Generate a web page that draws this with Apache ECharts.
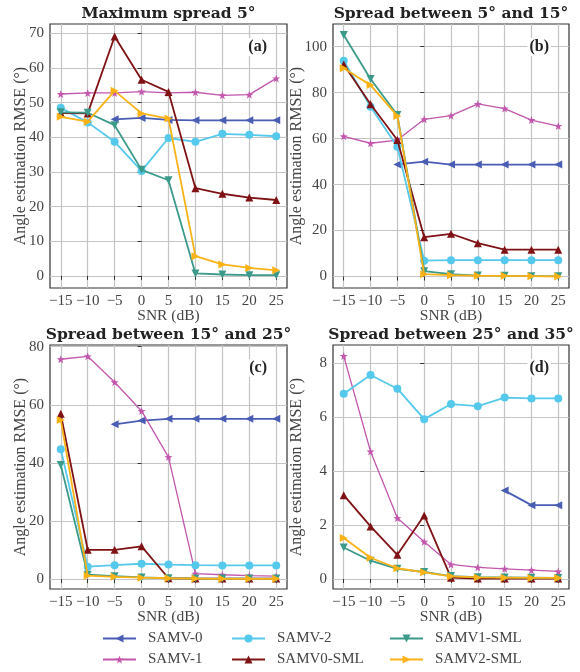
<!DOCTYPE html>
<html>
<head>
    <meta charset="UTF-8">
    <title>RMSE vs SNR</title>
    <script src="https://cdn.jsdelivr.net/npm/echarts@6/dist/echarts.min.js"></script>
    <style>
        *{margin:0;padding:0}
        html, body{ width:100%; height:100%; background:#fff; }
        #main{ width:580px; height:672px; }
    </style>
</head>
<body>
    <div id="main"></div>
    <script type="text/javascript">
        // SNR points (dB)
        var snr = [-15, -10, -5, 0, 5, 10, 15, 20, 25];
        var names = ['SAMV-0', 'SAMV-1', 'SAMV-2', 'SAMV0-SML', 'SAMV1-SML', 'SAMV2-SML'];

        // (a) maximum spread 5
        var a_samv0    = [null, null, 45.2, 45.6, 45.0, 44.9, 44.9, 44.9, 44.9];
        var a_samv1    = [52.5, 52.8, 52.8, 53.2, 52.8, 53.0, 52.1, 52.3, 57.0];
        var a_samv2    = [48.5, 44.3, 38.7, 30.3, 39.8, 38.7, 41.0, 40.7, 40.3];
        var a_samv0sml = [47.0, 46.9, 69.1, 56.6, 53.1, 25.3, 23.7, 22.6, 21.9];
        var a_samv1sml = [47.2, 47.1, 43.5, 30.6, 27.6, 0.7, 0.4, 0.2, 0.2];
        var a_samv2sml = [45.9, 44.5, 53.4, 46.9, 45.4, 5.7, 3.3, 2.3, 1.6];

        // (b) spread 5..15
        var b_samv0    = [null, null, 48.8, 50.0, 48.7, 48.7, 48.7, 48.7, 48.7];
        var b_samv1    = [61.0, 58.0, 59.4, 68.4, 70.0, 75.1, 73.1, 68.1, 65.5];
        var b_samv2    = [93.9, 73.9, 56.5, 6.9, 7.1, 7.1, 7.1, 7.1, 7.1];
        var b_samv0sml = [92.3, 75.0, 59.4, 17.1, 18.6, 14.5, 11.7, 11.7, 11.7];
        var b_samv1sml = [105.1, 86.0, 70.3, 2.3, 1.0, 0.4, 0.3, 0.15, 0.15];
        var b_samv2sml = [90.6, 83.3, 69.9, 1.0, 0.6, 0.3, 0.3, 0.15, 0.0];

        // (c) spread 15..25
        var c_samv0    = [null, null, 53.3, 54.6, 55.2, 55.2, 55.2, 55.2, 55.2];
        var c_samv1    = [75.7, 76.7, 67.8, 57.9, 42.0, 1.9, 1.5, 1.2, 1.0];
        var c_samv2    = [44.7, 4.3, 4.8, 5.3, 5.0, 4.8, 4.7, 4.7, 4.7];
        var c_samv0sml = [56.9, 10.1, 10.1, 11.3, 0.3, 0.2, 0.2, 0.2, 0.2];
        var c_samv1sml = [39.3, 1.5, 1.0, 0.6, 0.3, 0.2, 0.2, 0.2, 0.2];
        var c_samv2sml = [54.8, 1.2, 0.8, 0.5, 0.3, 0.2, 0.1, 0.1, 0.1];

        // (d) spread 25..35
        var d_samv0    = [null, null, null, null, null, null, 3.28, 2.74, 2.74];
        var d_samv1    = [8.27, 4.73, 2.26, 1.38, 0.54, 0.43, 0.38, 0.33, 0.28];
        var d_samv2    = [6.87, 7.57, 7.06, 5.93, 6.49, 6.41, 6.73, 6.70, 6.70];
        var d_samv0sml = [3.11, 1.95, 0.90, 2.36, 0.05, 0.02, 0.02, 0.02, 0.02];
        var d_samv1sml = [1.17, 0.68, 0.38, 0.26, 0.11, 0.07, 0.06, 0.05, 0.04];
        var d_samv2sml = [1.52, 0.79, 0.40, 0.25, 0.10, 0.06, 0.05, 0.04, 0.04];

        var xTicks = [-15, -10, -5, 0, 5, 10, 15, 20, 25];
        var yTicksA = [0, 10, 20, 30, 40, 50, 60, 70];
        var yTicksB = [0, 20, 40, 60, 80, 100];
        var yTicksC = [0, 20, 40, 60, 80];
        var yTicksD = [0, 2, 4, 6, 8];

        var panels = [
            {title: 'Maximum spread 5°', tag: '(a)', ticks: yTicksA, min: -3.5, max: 72.7,
             grid: {left: 50, top: 24, width: 237, height: 264}, nameGap: 21,
             data: [a_samv0, a_samv1, a_samv2, a_samv0sml, a_samv1sml, a_samv2sml]},
            {title: 'Spread between 5° and 15°', tag: '(b)', ticks: yTicksB, min: -5.0, max: 109.9,
             grid: {left: 333, top: 24, width: 236, height: 264}, nameGap: 28,
             data: [b_samv0, b_samv1, b_samv2, b_samv0sml, b_samv1sml, b_samv2sml]},
            {title: 'Spread between 15° and 25°', tag: '(c)', ticks: yTicksC, min: -3.4, max: 80.6,
             grid: {left: 50, top: 345, width: 237, height: 244}, nameGap: 21,
             data: [c_samv0, c_samv1, c_samv2, c_samv0sml, c_samv1sml, c_samv2sml]},
            {title: 'Spread between 25° and 35°', tag: '(d)', ticks: yTicksD, min: -0.37, max: 8.68,
             grid: {left: 333, top: 345, width: 236, height: 244}, nameGap: 28,
             data: [d_samv0, d_samv1, d_samv2, d_samv0sml, d_samv1sml, d_samv2sml]}
        ];

        var colors = ['#4a5db5', '#c356ad', '#55c9ec', '#7f1215', '#3b9a89', '#fbb216'];
        var starPath = 'path://M0,-10L2.35,-3.24L9.51,-3.09L3.8,1.24L5.88,8.09L0,4L-5.88,8.09L-3.8,1.24L-9.51,-3.09L-2.35,-3.24Z';
        var styles = [
            {symbol: 'triangle', rotate: 90, size: 8, width: 1.8},
            {symbol: starPath, rotate: 0, size: 8, width: 1.3},
            {symbol: 'circle', rotate: 0, size: 8, width: 1.8},
            {symbol: 'triangle', rotate: 0, size: 8, width: 1.8},
            {symbol: 'triangle', rotate: 180, size: 8, width: 1.8},
            {symbol: 'triangle', rotate: -90, size: 8, width: 1.8}
        ];

        var serif = '"Liberation Serif", "Times New Roman", serif';
        var minus = function (v) { return v < 0 ? '\u2212' + (-v) : String(v); };

        var grids = [], xAxes = [], yAxes = [], series = [], graphics = [];
        panels.forEach(function (p, i) {
            grids.push({left: p.grid.left, top: p.grid.top, width: p.grid.width, height: p.grid.height,
                show: true, borderColor: '#333', borderWidth: 1.2, backgroundColor: 'transparent'});
            xAxes.push({
                type: 'value', gridIndex: i, min: -17, max: 27,
                name: 'SNR (dB)', nameLocation: 'middle', nameGap: 20, nameMoveOverlap: false,
                nameTextStyle: {fontFamily: serif, fontSize: 15.5, color: '#444'},
                axisLine: {show: false},
                axisTick: {show: true, length: 4, customValues: xTicks, lineStyle: {color: '#333'}},
                axisLabel: {customValues: xTicks, formatter: minus, margin: 6,
                    fontFamily: serif, fontSize: 15, color: '#444'},
                splitLine: {show: true, lineStyle: {color: '#c4c4c4', width: 1.2}}
            });
            yAxes.push({
                type: 'value', gridIndex: i, min: p.min, max: p.max,
                name: 'Angle estimation RMSE (°)', nameLocation: 'middle', nameGap: p.nameGap,
                nameMoveOverlap: false,
                nameTextStyle: {fontFamily: serif, fontSize: 16, color: '#444'},
                axisLine: {show: false},
                axisTick: {show: true, length: 4, customValues: p.ticks, lineStyle: {color: '#333'}},
                axisLabel: {customValues: p.ticks, formatter: minus, margin: 6,
                    fontFamily: serif, fontSize: 15, color: '#444'},
                splitLine: {show: true, lineStyle: {color: '#c4c4c4', width: 1.2}}
            });
            p.data.forEach(function (vals, k) {
                var pts = [];
                vals.forEach(function (v, j) { if (v !== null) pts.push([snr[j], v]); });
                var st = styles[k];
                series.push({
                    name: names[k], type: 'line', xAxisIndex: i, yAxisIndex: i,
                    data: pts, symbol: st.symbol, symbolRotate: st.rotate, symbolSize: st.size,
                    showAllSymbol: true, animation: false,
                    lineStyle: {color: colors[k], width: st.width},
                    itemStyle: {color: colors[k]},
                    z: 2 + k
                });
            });
            var cx = p.grid.left + p.grid.width / 2;
            graphics.push({
                type: 'text', x: cx, y: p.grid.top - 18,
                style: {text: p.title, font: 'bold 15.5px "DejaVu Serif", serif', fill: '#222',
                    align: 'center', verticalAlign: 'top'}
            });
            graphics.push({
                type: 'text', x: p.grid.left + p.grid.width - 18, y: p.grid.top + 14, z: 100,
                style: {text: p.tag, font: 'bold 16px "Liberation Serif", serif', fill: '#222',
                    align: 'right', verticalAlign: 'top', backgroundColor: '#fff', padding: [1, 2, 1, 2]}
            });
        });

        var legendBase = {
            orient: 'vertical', top: 631, height: 41, padding: 0, itemGap: 6,
            itemWidth: 33, itemHeight: 10,
            textStyle: {fontFamily: serif, fontSize: 15, color: '#444', padding: [0, 0, 0, 7]},
            lineStyle: {width: 2}
        };
        var legends = [
            Object.assign({}, legendBase, {left: 102, data: ['SAMV-0', 'SAMV-1']}),
            Object.assign({}, legendBase, {left: 231, data: ['SAMV-2', 'SAMV0-SML']}),
            Object.assign({}, legendBase, {left: 389, data: ['SAMV1-SML', 'SAMV2-SML']})
        ];

        var myChart = echarts.init(document.getElementById('main'));
        myChart.setOption({
            animation: false,
            backgroundColor: '#fff',
            grid: grids,
            xAxis: xAxes,
            yAxis: yAxes,
            legend: legends,
            graphic: graphics,
            series: series
        });
    </script>
</body>
</html>
